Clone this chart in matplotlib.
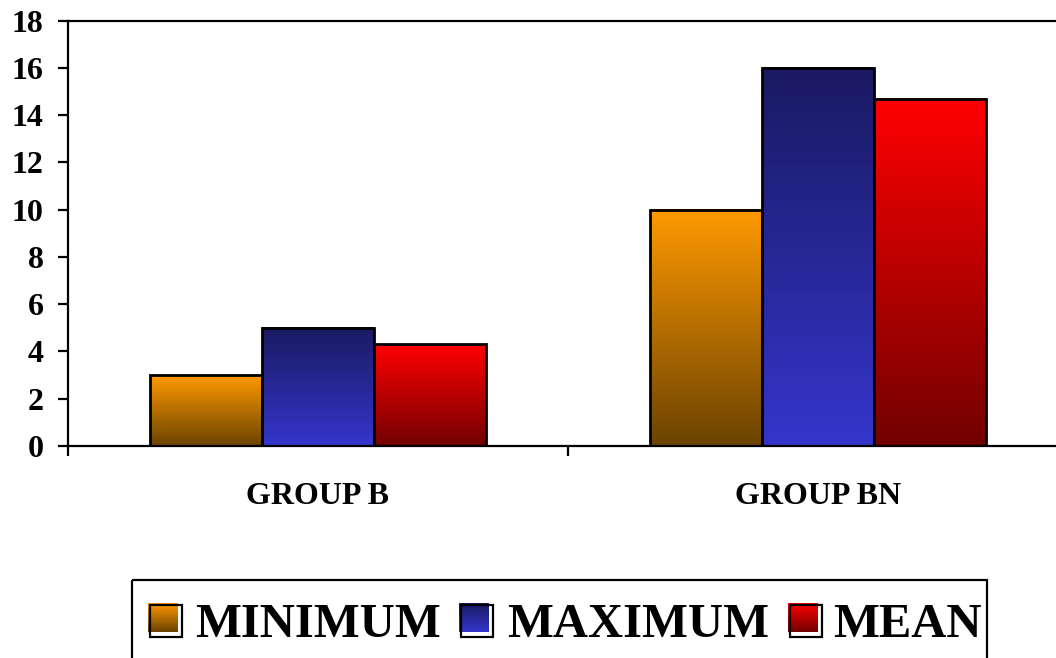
import numpy as np
import matplotlib
matplotlib.use("Agg")
import matplotlib.pyplot as plt
import matplotlib.transforms as mtransforms
from matplotlib.colors import LinearSegmentedColormap
from matplotlib.patches import Rectangle

# ---- data ----
categories = ["GROUP B", "GROUP BN"]
series_names = ["MINIMUM", "MAXIMUM", "MEAN"]
minimum = [3.0, 10.0]
maximum = [5.0, 16.0]
mean = [4.3, 14.7]
y_ticks = [0, 2, 4, 6, 8, 10, 12, 14, 16, 18]

# gradient colours (top, bottom) per series
grad_colors = [("#FF9900", "#6B4300"), ("#1A1A62", "#3535CC"), ("#FF0000", "#720000")]

FONT = "Liberation Serif"
W, H = 1056, 658
fig = plt.figure(figsize=(W / 100, H / 100), dpi=100)

ax = fig.add_axes([68 / W, 1 - 446 / H, 1 - 68 / W, (446 - 20.5) / H])
x = np.arange(len(categories))
bw = 0.2236
series = [minimum, maximum, mean]
offsets = [-bw, 0, bw]

for vals, off, (ctop, cbot) in zip(series, offsets, grad_colors):
    cmap = LinearSegmentedColormap.from_list("g", [cbot, ctop])
    bars = ax.bar(x + off, vals, width=bw, facecolor="none", edgecolor="black",
                  linewidth=2.0, zorder=3)
    for r in bars:
        x0, w, h = r.get_x(), r.get_width(), r.get_height()
        grad = np.linspace(1, 0, 256).reshape(-1, 1)
        ax.imshow(grad, cmap=cmap, extent=(x0, x0 + w, 0, h), origin="upper",
                  aspect="auto", zorder=2, interpolation="bilinear")

ax.set_yticks(y_ticks)
ax.set_yticklabels([str(t) for t in y_ticks], fontfamily=FONT, fontweight="bold", fontsize=23)
ax.set_xticks([-0.5, 0.5, 1.5])
ax.set_xticklabels([])
ax.set_xlim(-0.5, 1.476)
ax.set_ylim(0, 18)
ax.tick_params(axis="y", direction="out", length=7.5, width=1.6, pad=10)
ax.tick_params(axis="x", direction="out", length=7, width=1.6)
for s in ["left", "bottom", "top"]:
    ax.spines[s].set_linewidth(1.6)
ax.spines["right"].set_visible(False)

trans = mtransforms.blended_transform_factory(ax.transData, fig.transFigure)
for xi, cat in zip(x, categories):
    ax.text(xi, 1 - 497 / H, cat, transform=trans, ha="center", va="center",
            fontfamily=FONT, fontweight="bold", fontsize=23)

# ---- legend drawn in pixel space ----
lax = fig.add_axes([0, 0, 1, 1], zorder=5)
lax.axis("off")
lax.patch.set_alpha(0)
lax.add_patch(Rectangle((132, 579.5), 987 - 132, 100, facecolor="none",
                        edgecolor="black", linewidth=1.6, clip_on=False))
sq_x = [148, 459, 788]
txt_x = [195, 507, 833]
for name, (ctop, cbot), sx, tx in zip(series_names, grad_colors, sq_x, txt_x):
    cmap = LinearSegmentedColormap.from_list("g", [cbot, ctop])
    grad = np.linspace(1, 0, 64).reshape(-1, 1)
    lax.imshow(grad, cmap=cmap, extent=(sx, sx + 30, 632, 603), origin="upper",
               aspect="auto", interpolation="bilinear")
    lax.add_patch(Rectangle((sx + 2, 605), 32, 32, facecolor="none",
                            edgecolor="black", linewidth=1.6))
    lax.text(tx, 637, name, ha="left", va="baseline", fontfamily=FONT,
             fontweight="bold", fontsize=35)
lax.set_xlim(0, W)
lax.set_ylim(H, 0)

fig.savefig("out.png", dpi=100)
